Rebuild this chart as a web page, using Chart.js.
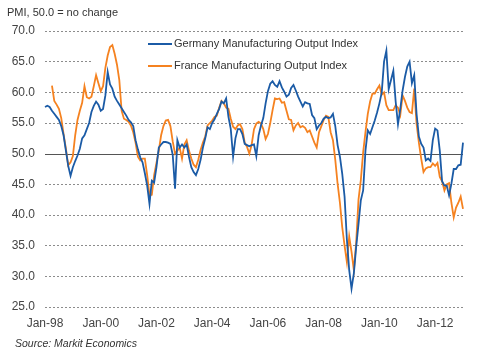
<!DOCTYPE html>
<html>
<head>
<meta charset="utf-8">
<script src="https://cdn.jsdelivr.net/npm/chart.js@4.4.1/dist/chart.umd.min.js"></script>
<style>
  html, body { margin: 0; padding: 0; background: #fff; }
  #wrap { position: relative; width: 480px; height: 360px; font-family: "Liberation Sans", Arial, sans-serif; color: #333; }
  #c { position: absolute; left: 0; top: 0; }
  .txt { position: absolute; white-space: nowrap; }
  .sw { position: absolute; height: 2px; width: 24px; }
</style>
</head>
<body>
<div id="wrap">
  <canvas id="c" width="480" height="360"></canvas>
  <div class="txt" style="left:7px;top:6px;font-size:11px;">PMI, 50.0 = no change</div>
  <div class="sw" style="left:148px;top:43px;background:#1b5ba6;"></div>
  <div class="txt" style="left:174px;top:37px;font-size:11px;">Germany Manufacturing Output Index</div>
  <div class="sw" style="left:148px;top:65px;background:#f58220;"></div>
  <div class="txt" style="left:174px;top:59px;font-size:11px;">France Manufacturing Output Index</div>
  <div class="txt" style="left:15px;top:337px;font-size:10.5px;font-style:italic;">Source: Markit Economics</div>
</div>
<script>
// ---- data (monthly, Jan-98 .. Jan-13) ----
const monthNames = ['Jan','Feb','Mar','Apr','May','Jun','Jul','Aug','Sep','Oct','Nov','Dec'];
const years = ['98','99','00','01','02','03','04','05','06','07','08','09','10','11','12','13'];
const xTickLabels = ['Jan-98','Jan-00','Jan-02','Jan-04','Jan-06','Jan-08','Jan-10','Jan-12'];
const yTicks = [25,30,35,40,45,50,55,60,65,70];

const germany = [
  57.6,57.8,57.6,57.0,56.5,56.0,55.5,54.5,53.0,50.5,48.0,46.4,
  47.8,48.8,49.7,50.8,52.5,53.0,54.0,55.0,56.8,57.8,58.5,58.0,
  57.0,57.3,59.5,63.3,61.3,60.6,59.3,58.6,58.0,57.4,56.8,56.2,
  55.5,55.1,54.5,52.2,50.7,49.4,48.6,46.8,44.8,41.8,45.6,45.3,
  47.8,51.0,51.5,51.9,51.9,51.8,51.6,49.8,44.3,52.2,51.0,51.5,
  51.0,51.5,49.5,47.8,47.0,46.5,47.5,49.0,51.0,52.5,54.3,54.0,
  55.0,55.6,56.5,57.3,58.5,58.2,59.0,56.0,54.0,49.5,52.5,54.0,
  54.0,53.2,51.6,51.4,51.2,51.4,51.5,49.6,53.0,54.6,55.8,58.2,
  60.2,61.4,61.8,61.2,60.9,61.8,60.8,60.1,59.3,59.6,60.7,61.2,
  60.3,59.3,58.5,57.7,58.4,58.2,58.1,56.3,55.8,54.0,54.6,55.0,
  55.7,56.0,55.8,55.9,56.5,54.5,51.4,49.5,46.7,43.0,36.0,31.0,
  28.0,30.5,34.8,38.5,42.4,44.0,50.5,53.8,53.2,54.3,55.4,56.7,
  58.2,60.0,65.0,66.8,60.5,62.0,63.5,58.5,54.8,57.3,60.3,62.5,
  64.2,65.0,61.5,62.8,56.5,52.8,51.6,51.0,48.9,49.2,48.8,52.2,
  54.1,53.8,50.5,45.5,44.8,44.8,43.2,45.1,47.5,47.5,48.1,48.2,
  51.8
];

const france = [
  null,null,null,61.1,58.6,58.0,57.3,55.8,53.2,50.8,48.1,48.6,
  49.6,53.0,55.5,57.0,58.3,61.0,59.2,59.0,59.3,61.0,62.8,61.5,
  60.2,61.0,64.0,66.0,67.4,67.7,66.3,64.5,62.0,57.0,55.7,55.5,
  55.2,54.6,53.5,51.8,49.5,48.9,49.2,49.2,46.5,43.2,43.3,46.5,
  48.5,50.5,53.0,54.5,55.4,55.5,54.5,52.0,50.0,50.5,51.0,49.2,
  51.5,52.2,50.5,49.2,48.2,47.8,49.0,50.6,51.8,52.8,54.6,55.0,
  55.4,56.0,56.2,57.5,58.6,58.2,57.5,57.3,55.7,54.4,54.0,54.6,
  54.8,54.0,51.8,51.1,50.0,51.5,54.0,54.9,55.2,54.9,54.0,52.4,
  53.2,55.0,57.1,59.0,58.9,59.0,58.3,58.4,57.0,55.6,55.5,53.8,
  54.6,55.0,54.3,54.5,54.2,53.5,53.8,52.8,51.8,51.0,53.5,54.5,
  55.5,56.2,56.0,53.5,52.2,49.0,45.1,42.0,38.0,35.0,32.3,36.5,
  34.0,31.0,35.5,42.5,45.7,50.2,53.5,56.5,58.5,59.8,59.8,60.5,
  61.1,59.6,60.0,57.9,57.1,57.1,57.1,57.9,57.5,56.3,59.5,58.6,
  57.5,56.8,56.6,60.6,54.9,51.8,49.2,47.0,47.6,47.8,47.8,48.4,
  48.0,48.5,46.2,45.5,44.0,45.0,45.2,42.0,39.6,41.2,42.0,43.0,
  41.0
];

// month labels for the category axis
const labels = [];
for (const y of years) for (const m of monthNames) labels.push(m + '-' + y);
labels.length = germany.length;

const FONT = "'Liberation Sans', Arial, sans-serif";

const backdrop = {
  id: 'backdrop',
  beforeDatasetsDraw(chart) {
    const { ctx, chartArea, scales } = chart;
    // white legend box behind the series (hides the 65 gridline there)
    ctx.save();
    ctx.fillStyle = '#ffffff';
    ctx.fillRect(93, 36, 320, 36);
    // solid 50.0 line
    const y = Math.round(scales.y.getPixelForValue(50)) + 0.5;
    ctx.strokeStyle = '#555555';
    ctx.lineWidth = 1.2;
    ctx.beginPath();
    ctx.moveTo(chartArea.left, y);
    ctx.lineTo(chartArea.right, y);
    ctx.stroke();
    ctx.restore();
  }
};

new Chart(document.getElementById('c'), {
  type: 'line',
  data: {
    labels: labels,
    datasets: [
      { label: 'Germany Manufacturing Output Index', data: germany, borderColor: '#1b5ba6', borderWidth: 1.8, pointRadius: 0, tension: 0, fill: false },
      { label: 'France Manufacturing Output Index', data: france, borderColor: '#f58220', borderWidth: 1.8, pointRadius: 0, tension: 0, fill: false }
    ]
  },
  options: {
    responsive: false,
    animation: false,
    layout: { padding: { top: 31, right: 17, left: 0, bottom: 0 } },
    plugins: { legend: { display: false }, tooltip: { enabled: false }, title: { display: false } },
    scales: {
      x: {
        type: 'category',
        offset: false,
        grid: { display: false, drawTicks: false },
        border: { display: false },
        ticks: {
          autoSkip: false, maxRotation: 0, minRotation: 0, padding: 9,
          color: '#444', font: { family: FONT, size: 12 },
          callback: function (v, i) { const l = labels[i]; return xTickLabels.includes(l) ? l : null; }
        },
        afterFit: (s) => { s.height = 53; }
      },
      y: {
        min: 25, max: 70,
        afterBuildTicks: (s) => { s.ticks = yTicks.map(v => ({ value: v })); },
        grid: {
          drawTicks: false,
          color: (ctx) => (ctx.tick && ctx.tick.value === 50) ? 'rgba(0,0,0,0)' : '#8c8c8c',
          lineWidth: 1
        },
        border: { display: false, dash: [2, 2] },
        ticks: {
          padding: 10, color: '#444', font: { family: FONT, size: 12 },
          callback: (v) => Number(v).toFixed(1)
        },
        afterFit: (s) => { s.width = 45; }
      }
    }
  },
  plugins: [backdrop]
});
</script>
</body>
</html>
